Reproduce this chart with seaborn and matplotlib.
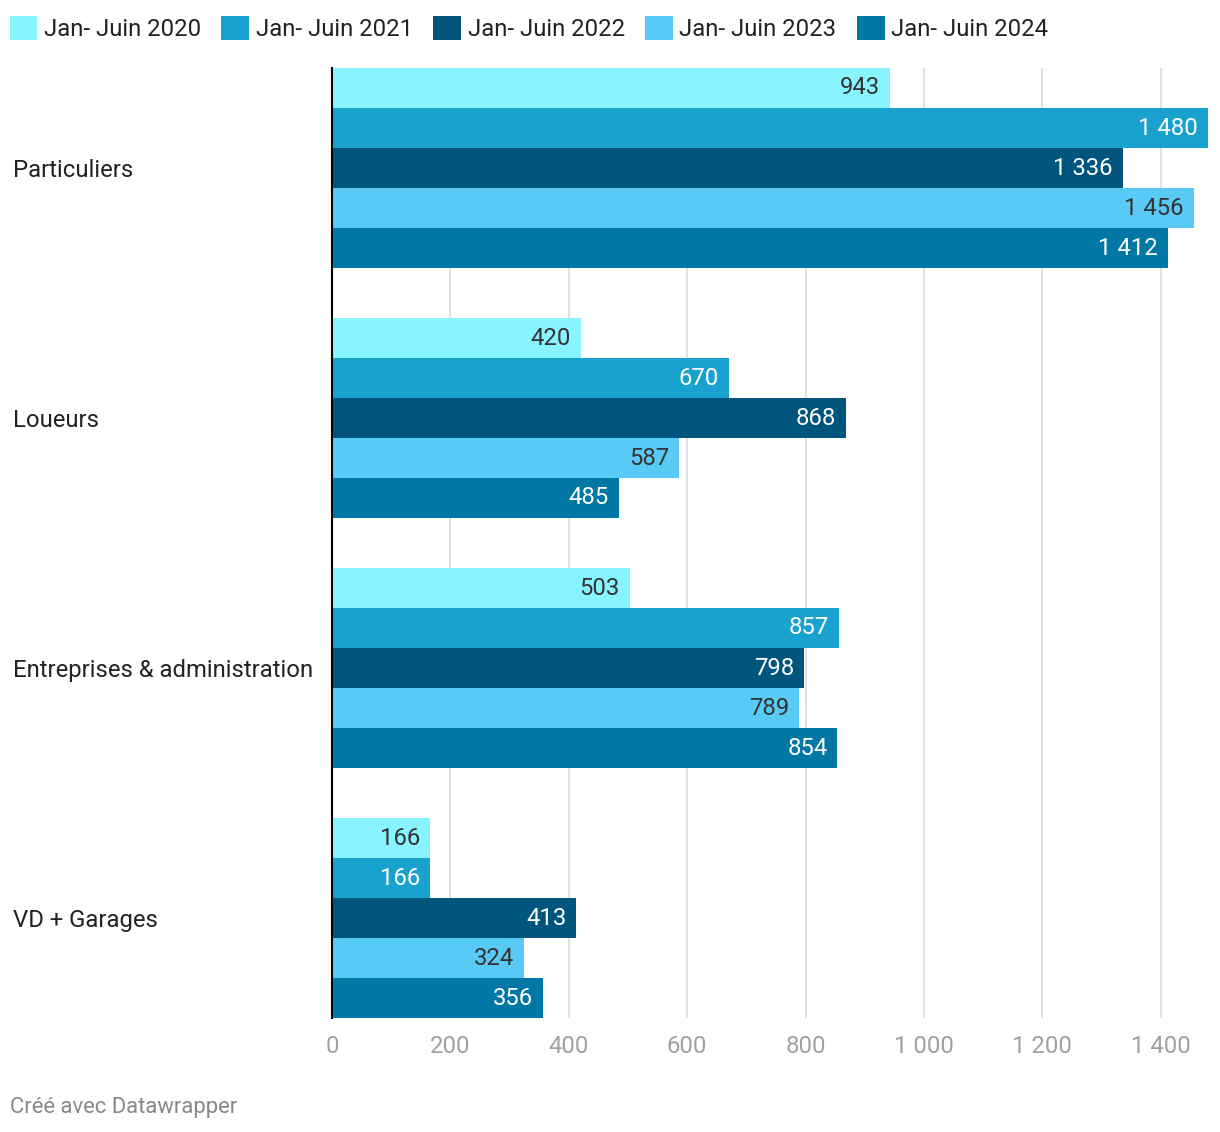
import numpy as np
import pandas as pd
import seaborn as sns
import matplotlib.pyplot as plt
from matplotlib.patches import Patch

categories = ["Particuliers", "Loueurs", "Entreprises & administration", "VD + Garages"]
periods = ["Jan- Juin 2020", "Jan- Juin 2021", "Jan- Juin 2022", "Jan- Juin 2023", "Jan- Juin 2024"]
v2020 = [943, 420, 503, 166]
v2021 = [1480, 670, 857, 166]
v2022 = [1336, 868, 798, 413]
v2023 = [1456, 587, 789, 324]
v2024 = [1412, 485, 854, 356]
colors = ["#88F4FF", "#1AA2CF", "#00557C", "#58CAF5", "#0077A5"]
label_colors = ["#333333", "#ffffff", "#ffffff", "#333333", "#ffffff"]
xticks = [0, 200, 400, 600, 800, 1000, 1200, 1400]

def fmt(v):
    return f"{v:,}".replace(",", " ")

rows = []
for p, vals in zip(periods, [v2020, v2021, v2022, v2023, v2024]):
    for c, v in zip(categories, vals):
        rows.append({"cat": c, "period": p, "val": v})
df = pd.DataFrame(rows)

sns.set_style("white")
plt.rcParams['font.family'] = ['Roboto', 'DejaVu Sans']
FS = 17.2

fig = plt.figure(figsize=(12.2, 11.32), dpi=100)
ax = fig.add_axes([332/1220, 114/1132, 876/1220, 950/1132])

sns.barplot(data=df, y="cat", x="val", hue="period", palette=colors, orient="h",
            saturation=1, width=0.8, ax=ax, legend=False, errorbar=None, linewidth=0)

ax.set_xlim(0, 1480)
ax.set_ylim(3.4, -0.4)

# value labels inside bar ends
for i, cont in enumerate(ax.containers):
    for p in cont.patches:
        w = p.get_width()
        ax.annotate(fmt(int(round(w))), (w, p.get_y() + p.get_height() / 2),
                    xytext=(-10, 0), textcoords="offset pixels", ha="right", va="center",
                    fontsize=FS, color=label_colors[i])

ax.set_xticks(xticks)
ax.set_xticklabels([fmt(t) for t in xticks], color="#a0a0a0", fontsize=FS)
ax.tick_params(axis="x", length=0, pad=12)
ax.set_yticks(range(len(categories)))
ax.set_yticklabels(categories, ha="left", fontsize=FS, color="#222222")
ax.tick_params(axis="y", length=0, pad=230)
ax.set_xlabel("")
ax.set_ylabel("")
ax.grid(axis="x", color="#e0e0e0", linewidth=1.5)
ax.set_axisbelow(True)
for s in ["top", "right", "bottom"]:
    ax.spines[s].set_visible(False)
ax.spines["left"].set_color("#000000")
ax.spines["left"].set_linewidth(1.5)
ax.spines["left"].set_zorder(5)

handles = [Patch(facecolor=c, edgecolor="none") for c in colors]
fig.legend(handles, periods, loc="upper left", bbox_to_anchor=(-6/1220, 1.0), ncol=5,
           frameon=False, fontsize=FS, handlelength=1.17, handleheight=1.17,
           handletextpad=0.27, columnspacing=0.85, borderaxespad=0.35, borderpad=0.3,
           labelcolor="#222222")

fig.text(10/1220, 1 - 1107/1132, "Créé avec Datawrapper", fontsize=15.8, color="#888888",
         ha="left", va="center")

fig.savefig("out.png", dpi=100)
